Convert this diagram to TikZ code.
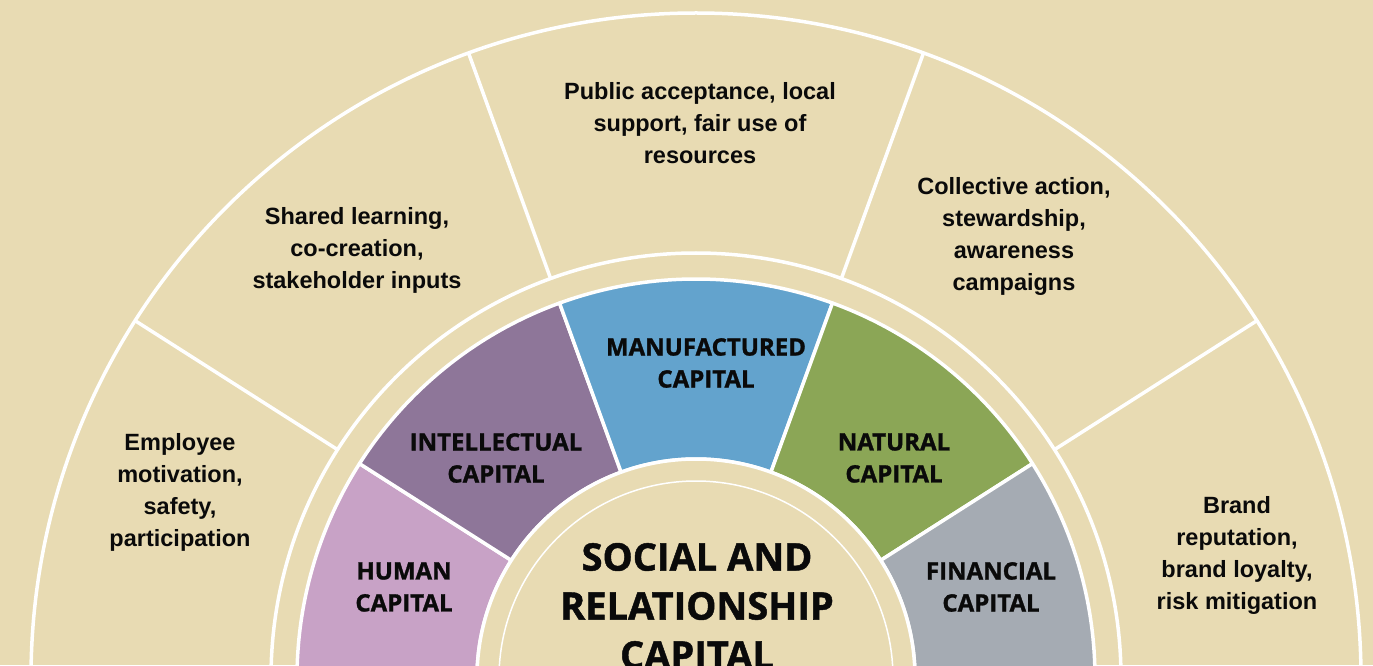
\documentclass[tikz,border=0pt]{standalone}
\usepackage{fontspec}
\newfontfamily\outerfont{Liberation Sans}
\newfontfamily\capfont[BoldFeatures={FakeBold=1.2}]{Open Sans}
\definecolor{bg}{RGB}{232,219,179}
\definecolor{humanc}{RGB}{200,162,198}
\definecolor{intelc}{RGB}{142,118,153}
\definecolor{manuc}{RGB}{99,163,205}
\definecolor{natc}{RGB}{139,166,86}
\definecolor{finc}{RGB}{165,171,179}
\definecolor{ink}{RGB}{10,10,10}
\newcommand{\ringsector}[3]{%
  \filldraw[fill=#1, draw=white, line width=3.5, line join=round]
    (#2:399) arc[start angle=#2, end angle=#3, radius=399]
    -- (#3:219) arc[start angle=#3, end angle=#2, radius=219] -- cycle;}
\tikzset{
  outertext/.style={font=\outerfont\bfseries\fontsize{23.5}{32}\selectfont, align=center, inner sep=0, text=ink},
  captext/.style={font=\capfont\bfseries\fontsize{24}{32}\selectfont, align=center, inner sep=0, text=ink},
  centertext/.style={font=\capfont\bfseries\fontsize{38}{49}\selectfont, align=center, inner sep=0, text=ink},
  whiteline/.style={draw=white, line width=3.5}
}
\begin{document}
\begin{tikzpicture}[x=1pt,y=1pt]
\useasboundingbox (0,0) rectangle (1373,665);
\clip (0,0) rectangle (1373,665);
\fill[bg] (0,0) rectangle (1373,665);
\begin{scope}[shift={(696,-13)}]
  \draw[whiteline] (0,0) circle[radius=665];
  \draw[whiteline] (0,0) circle[radius=425];
  \foreach \a in {32.5,70,110,147.5} \draw[whiteline] (\a:425) -- (\a:665);
  \ringsector{humanc}{147.5}{185}
  \ringsector{intelc}{110}{147.5}
  \ringsector{manuc}{70}{110}
  \ringsector{natc}{32.5}{70}
  \ringsector{finc}{-5}{32.5}
  \filldraw[fill=bg, whiteline] (0,0) circle[radius=219];
  \draw[white, line width=1.5] (0,0) circle[radius=197];
\end{scope}
\node[outertext] (public) at (700,542) {Public acceptance, local\\support, fair use of\\resources};
\node[outertext] (shared) at (357,415) {Shared learning,\\co-creation,\\stakeholder inputs};
\node[outertext] (collective) at (1014,429) {Collective action,\\stewardship,\\awareness\\campaigns};
\node[outertext] (employee) at (180,173) {Employee\\motivation,\\safety,\\participation};
\node[outertext] (brand) at (1237,110) {Brand\\reputation,\\brand loyalty,\\risk mitigation};
\node[captext] (manu) at (706,302) {MANUFACTURED\\CAPITAL};
\node[captext] (intel) at (496,207) {INTELLECTUAL\\CAPITAL};
\node[captext] (nat) at (894,207) {NATURAL\\CAPITAL};
\node[captext] (human) at (404,78) {HUMAN\\CAPITAL};
\node[captext] (fin) at (991,78) {FINANCIAL\\CAPITAL};
\node[centertext] (social) at (697,59) {SOCIAL AND\\RELATIONSHIP\\CAPITAL};
\end{tikzpicture}
\end{document}
